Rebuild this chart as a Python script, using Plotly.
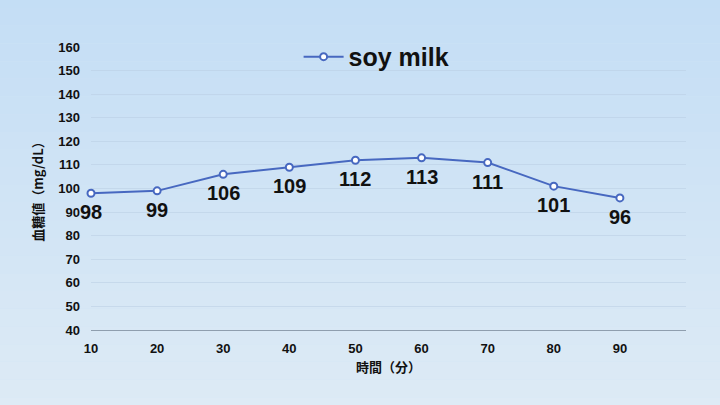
import plotly.graph_objects as go

times = [10, 20, 30, 40, 50, 60, 70, 80, 90]
glucose = [98, 99, 106, 109, 112, 113, 111, 101, 96]
y_ticks = [40, 50, 60, 70, 80, 90, 100, 110, 120, 130, 140, 150, 160]
series_name = "soy milk"

LINE = "#4768c0"
FONT = "Liberation Sans, Arial, sans-serif"
CJK = "Noto Sans CJK JP, sans-serif"

fig = go.Figure()
fig.add_trace(go.Scatter(
    x=times, y=glucose, name=series_name,
    mode="lines+markers",
    line=dict(color=LINE, width=2),
    marker=dict(size=7, color="white", line=dict(color=LINE, width=2)),
    cliponaxis=False,
))

for xv, yv in zip(times, glucose):
    fig.add_annotation(x=xv, y=yv, text=str(yv), showarrow=False, yanchor="middle",
                       yshift=-19, font=dict(family=FONT, size=20, color="#111111", weight="bold"))

# background gradient bands (sky)
top = (196, 222, 245)
bot = (222, 235, 246)
n = 24
shapes = []
for i in range(n):
    t = i / (n - 1)
    c = tuple(int(top[k] + (bot[k] - top[k]) * t) for k in range(3))
    shapes.append(dict(type="rect", xref="paper", yref="paper",
                       x0=-0.2, x1=1.1, y0=1.2 - (i + 1) * 1.5 / n, y1=1.2 - i * 1.5 / n,
                       fillcolor="rgb(%d,%d,%d)" % c, line=dict(width=0), layer="below"))

fig.update_layout(
    width=720, height=405,
    margin=dict(l=91, r=34, t=47, b=75),
    paper_bgcolor="rgb(208,228,245)",
    plot_bgcolor="rgba(0,0,0,0)",
    shapes=shapes,
    showlegend=True,
    legend=dict(orientation="h", x=0.48, xanchor="center", y=0.965, yanchor="middle",
                font=dict(family=FONT, size=25, color="#111111", weight="bold"),
                bgcolor="rgba(0,0,0,0)", itemwidth=40),
    xaxis=dict(range=[10, 100], tickvals=times, ticktext=[str(t) for t in times],
               showgrid=False, zeroline=False, showline=True, linecolor="#8f9eae", linewidth=1,
               tickfont=dict(family=FONT, size=13, color="#111111", weight="bold"),
               ticks="", ticklabelstandoff=6,
               title=dict(text="時間（分）", font=dict(family=CJK, size=13, color="#111111", weight="bold"),
                          standoff=8)),
    yaxis=dict(range=[40, 160], tickvals=y_ticks, showgrid=True,
               gridcolor="rgba(185,205,225,0.55)", gridwidth=1, zeroline=False,
               tickfont=dict(family=FONT, size=13, color="#111111", weight="bold"),
               ticks="", ticklabelstandoff=10,
               title=dict(text="血糖値（mg/dL）", font=dict(family=CJK, size=13, color="#111111", weight="bold"),
                          standoff=11)),
)

fig.write_html("out.html")
